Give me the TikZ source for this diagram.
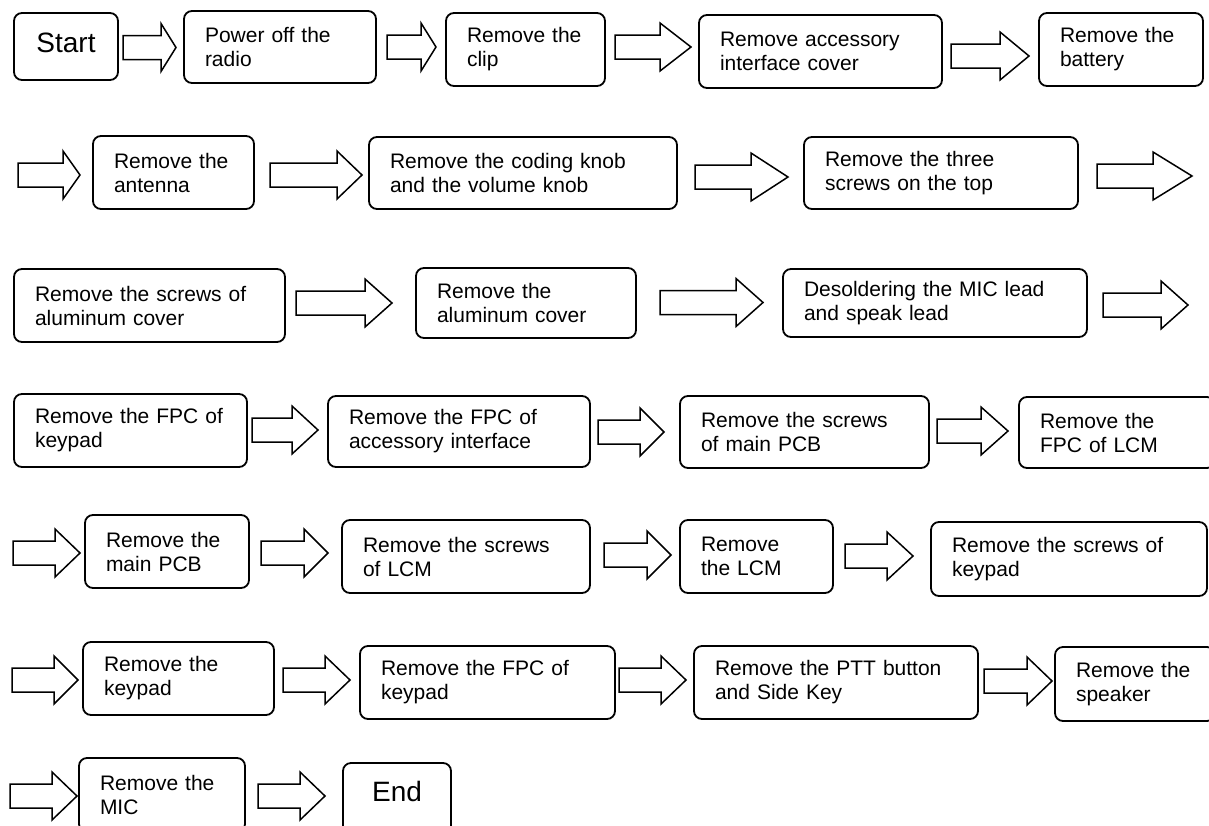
\documentclass[tikz,border=0pt]{standalone}
\usepackage{fontspec}
\setmainfont{Liberation Sans}
\usetikzlibrary{calc}

\tikzset{
  stepbox/.style={draw, line width=1.8pt, rounded corners=8pt, align=left, inner xsep=21pt, inner ysep=0pt, font=\fontsize{21pt}{24pt}\selectfont},
  endbox/.style={draw, line width=1.8pt, rounded corners=8pt, inner sep=0pt, text depth=8pt, font=\fontsize{28pt}{32pt}\selectfont},
  fat/.style={line width=1.5pt, to path={let \p1=(\tikztostart), \p2=(\tikztotarget) in
      (\x1,\y1+12pt) -- (\x2-#1,\y1+12pt) -- (\x2-#1,\y1+24pt) -- (\x2,\y1)
      -- (\x2-#1,\y1-24pt) -- (\x2-#1,\y1-12pt) -- (\x1,\y1-12pt) -- cycle}},
}

\begin{document}
\begin{tikzpicture}[x=1pt,y=-1pt]
\useasboundingbox (0,0) rectangle (1209,825);

% row 1
\node[endbox, minimum width=104pt, minimum height=67pt] (start) at (66,46.5) {Start};
\node[stepbox, text width=150pt, minimum height=72pt] (power) at (280,47) {Power off the\\radio};
\node[stepbox, text width=117pt, minimum height=73pt] (clip) at (525.5,49.5) {Remove the\\clip};
\node[stepbox, text width=201pt, minimum height=73pt] (cover) at (820.5,51.5) {Remove accessory\\interface cover};
\node[stepbox, text width=122pt, minimum height=73pt] (battery) at (1121,49.5) {Remove the\\battery};

% row 2
\node[stepbox, text width=119pt, minimum height=73pt] (antenna) at (173.5,172.5) {Remove the\\antenna};
\node[stepbox, text width=266pt, minimum height=72pt] (knobs) at (523,173) {Remove the coding knob\\and the volume knob};
\node[stepbox, text width=232pt, minimum height=72pt] (topscrews) at (941,173) {Remove the three\\screws on the top};

% row 3
\node[stepbox, text width=229pt, minimum height=73pt] (alscrews) at (149.5,305.5) {Remove the screws~of\\aluminum cover};
\node[stepbox, text width=178pt, minimum height=70pt] (alcover) at (526,303) {Remove the\\aluminum cover};
\node[stepbox, text width=262pt, minimum height=68pt] (desolder) at (935,303) {Desoldering the MIC lead\\and speak lead};

% row 4
\node[stepbox, text width=191pt, minimum height=73pt] (fpckey) at (130.5,430.5) {Remove the FPC of\\keypad};
\node[stepbox, text width=220pt, minimum height=71pt] (fpcacc) at (459,431.5) {Remove the FPC of\\accessory interface};
\node[stepbox, text width=207pt, minimum height=72pt] (pcbscrews) at (804.5,432) {Remove the screws\\of main PCB};
\node[stepbox, text width=154pt, minimum height=71pt] (fpclcm) at (1117,432.5) {Remove the\\FPC of LCM};

% row 5
\node[stepbox, text width=122pt, minimum height=73pt] (pcb) at (167,551.5) {Remove the\\main PCB};
\node[stepbox, text width=206pt, minimum height=73pt] (lcmscrews) at (466,556.5) {Remove the screws\\of LCM};
\node[stepbox, text width=111pt, minimum height=73pt] (lcm) at (756.5,556.5) {Remove\\the LCM};
\node[stepbox, text width=234pt, minimum height=74pt] (keyscrews) at (1069,559) {Remove the screws~of\\keypad};

% row 6
\node[stepbox, text width=149pt, minimum height=73pt] (keypad) at (178.5,678.5) {Remove the\\keypad};
\node[stepbox, text width=213pt, minimum height=73pt] (fpckey2) at (487.5,682.5) {Remove the FPC of\\keypad};
\node[stepbox, text width=242pt, minimum height=73pt] (ptt) at (836,682.5) {Remove the PTT button\\and Side Key};
\node[stepbox, text width=118pt, minimum height=74pt] (speaker) at (1135,684) {Remove the\\speaker};

% row 7
\node[stepbox, text width=124pt, minimum height=74pt] (mic) at (162,795) {Remove the\\MIC};
\node[endbox, text depth=16pt, minimum width=108pt, minimum height=73pt] (end) at (397,799.5) {End};

% arrow ends
\coordinate (a1s) at (123,47.5);   \coordinate (a1e) at (176,47.5);
\coordinate (a2s) at (387,47);     \coordinate (a2e) at (436,47);
\coordinate (a3s) at (615,47);     \coordinate (a3e) at (691,47);
\coordinate (a4s) at (951,56);     \coordinate (a4e) at (1029,56);
\coordinate (b1s) at (18,175);     \coordinate (b1e) at (80,175);
\coordinate (b2s) at (270,175);    \coordinate (b2e) at (362,175);
\coordinate (b3s) at (695,177);    \coordinate (b3e) at (788,177);
\coordinate (b4s) at (1097,176);   \coordinate (b4e) at (1192,176);
\coordinate (c1s) at (296,303);    \coordinate (c1e) at (392,303);
\coordinate (c2s) at (660,302.5);  \coordinate (c2e) at (763,302.5);
\coordinate (c3s) at (1103,305);   \coordinate (c3e) at (1188,305);
\coordinate (d1s) at (252,430);    \coordinate (d1e) at (318,430);
\coordinate (d2s) at (598,432);    \coordinate (d2e) at (664,432);
\coordinate (d3s) at (937,431);    \coordinate (d3e) at (1008,431);
\coordinate (e1s) at (13,553);     \coordinate (e1e) at (80,553);
\coordinate (e2s) at (261,553);    \coordinate (e2e) at (328,553);
\coordinate (e3s) at (604,555);    \coordinate (e3e) at (671,555);
\coordinate (e4s) at (845,556);    \coordinate (e4e) at (913,556);
\coordinate (f1s) at (12,680);     \coordinate (f1e) at (78,680);
\coordinate (f2s) at (283,680);    \coordinate (f2e) at (350,680);
\coordinate (f3s) at (619,680);    \coordinate (f3e) at (686,680);
\coordinate (f4s) at (984,681);    \coordinate (f4e) at (1052,681);
\coordinate (g1s) at (10,796);     \coordinate (g1e) at (77,796);
\coordinate (g2s) at (258,796);    \coordinate (g2e) at (325,796);

% block arrows
\draw[fat=15pt] (a1s) to (a1e);
\draw[fat=15pt] (a2s) to (a2e);
\draw[fat=31pt] (a3s) to (a3e);
\draw[fat=29pt] (a4s) to (a4e);
\draw[fat=17pt] (b1s) to (b1e);
\draw[fat=25pt] (b2s) to (b2e);
\draw[fat=37pt] (b3s) to (b3e);
\draw[fat=39pt] (b4s) to (b4e);
\draw[fat=27pt] (c1s) to (c1e);
\draw[fat=27pt] (c2s) to (c2e);
\draw[fat=27pt] (c3s) to (c3e);
\draw[fat=26pt] (d1s) to (d1e);
\draw[fat=24pt] (d2s) to (d2e);
\draw[fat=27pt] (d3s) to (d3e);
\draw[fat=25pt] (e1s) to (e1e);
\draw[fat=24pt] (e2s) to (e2e);
\draw[fat=24pt] (e3s) to (e3e);
\draw[fat=26pt] (e4s) to (e4e);
\draw[fat=24pt] (f1s) to (f1e);
\draw[fat=25pt] (f2s) to (f2e);
\draw[fat=25pt] (f3s) to (f3e);
\draw[fat=25pt] (f4s) to (f4e);
\draw[fat=25pt] (g1s) to (g1e);
\draw[fat=25pt] (g2s) to (g2e);
\end{tikzpicture}
\end{document}
